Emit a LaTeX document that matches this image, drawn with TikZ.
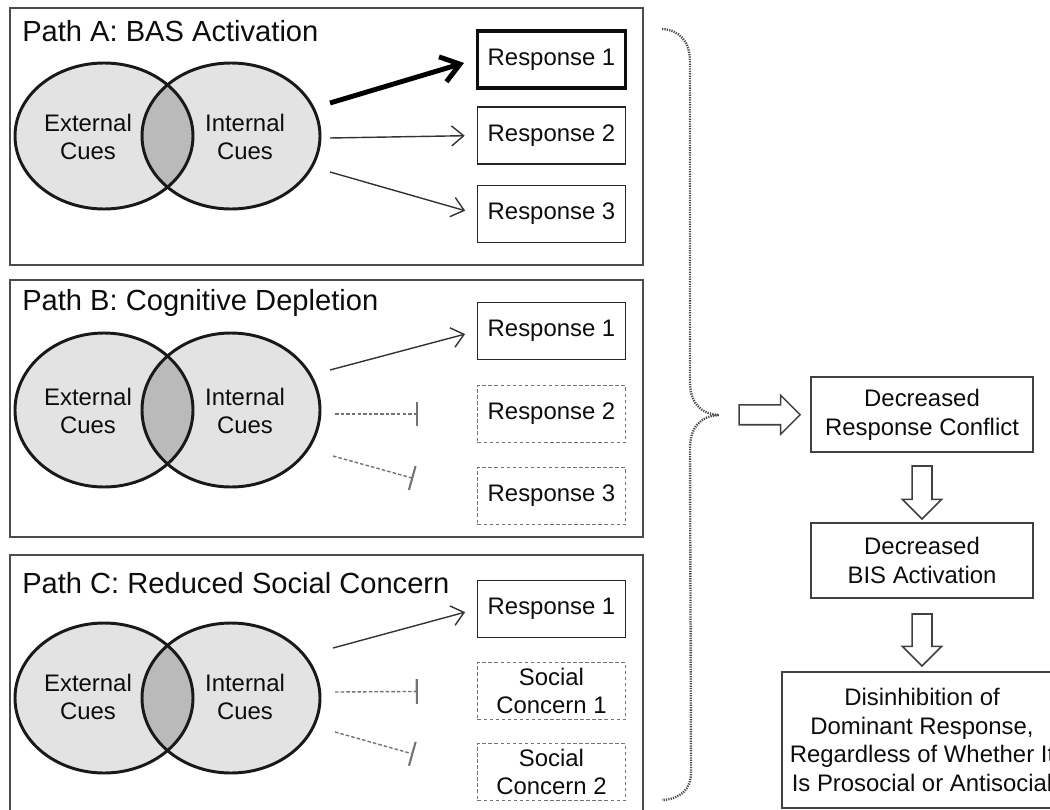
\documentclass[tikz,border=0pt]{standalone}
\usepackage{fontspec}
\setmainfont{Liberation Sans}
\usetikzlibrary{arrows.meta,shapes.arrows,calc}

\tikzset{
		panel/.style={draw=black!70, line width=1.3pt},
		title/.style={anchor=base west, inner sep=0pt, font=\fontsize{20.7}{24}\selectfont, text=black!95},
		cue/.style={fill=black!11},
		overlap/.style={fill=black!27},
		rim/.style={draw=black!90, line width=2.1pt},
		cuetext/.style={align=center, font=\fontsize{17}{20.5}\selectfont, text=black!95},
		resp/.style={draw=black!85, line width=1.1pt, minimum width=3.7cm, minimum height=1.425cm, inner sep=2pt, align=center, font=\fontsize{17}{20.5}\selectfont, text=black!95},
		strongresp/.style={resp, draw=black!95, line width=2.8pt},
		gone/.style={resp, draw=black!55, line width=0.9pt, dash pattern=on 2.5pt off 1.8pt},
		arrow/.style={-{Straight Barb[length=0.3cm, width=0.5cm]}, draw=black!80, line width=1pt, shorten >=0.3cm},
		strong/.style={-{Straight Barb[length=0.45cm, width=0.65cm]}, draw=black, line width=3.5pt, line join=round, shorten >=0.3cm},
		block/.style={-{Bar[width=0.62cm, line width=1.5pt]}, draw=black!55, line width=1pt, dash pattern=on 2.5pt off 1.5pt},
		brace/.style={draw=black!70, line width=1.7pt, dash pattern=on 0.9pt off 0.8pt},
		hollow/.style={single arrow, draw=black!75, fill=white, line width=1.1pt, inner sep=0.23cm, single arrow head extend=0.24cm, minimum height=1.525cm},
		result/.style={draw=black!75, line width=1.1pt, align=center, font=\fontsize{17}{20.5}\selectfont, text=black!95, minimum width=5.55cm, minimum height=1.875cm}
	}

\begin{document}
\begin{tikzpicture}[x=0.025cm, y=-0.025cm]
\useasboundingbox (0,0) rectangle (1050,809);
\clip (0,0) rectangle (1050,809);

% Path A
\draw [panel] (10,8) rectangle (643,265);
\node (titleA) at (22,41) [title] {Path A: BAS Activation};

\fill [cue] (104,136) ellipse [x radius=89, y radius=73];
\fill [cue] (231,136) ellipse [x radius=89, y radius=73];
\begin{scope}
\clip (104,136) ellipse [x radius=89, y radius=73];
\fill [overlap] (231,136) ellipse [x radius=89, y radius=73];
\end{scope}
\draw [rim] (104,136) ellipse [x radius=89, y radius=73];
\draw [rim] (231,136) ellipse [x radius=89, y radius=73];
\node (exA) at (88,137) [cuetext] {External\\Cues};
\node (inA) at (245,137) [cuetext] {Internal\\Cues};

\node (rA1) at (551.5,59.5) [strongresp] {Response 1};
\node (rA2) at (551.5,135.5) [resp] {Response 2};
\node (rA3) at (551.5,214) [resp] {Response 3};

\coordinate (oA1) at (330,103);
\coordinate (oA2) at (330,138);
\coordinate (oA3) at (330,172);
\draw [strong] (oA1) -- (rA1.west);
\draw [arrow] (oA2) -- (rA2.west);
\draw [arrow] (oA3) -- (rA3.west);

% Path B
\draw [panel] (10,280) rectangle (643,537);
\node (titleB) at (22,310) [title] {Path B: Cognitive Depletion};

\fill [cue] (104,410) ellipse [x radius=89, y radius=77];
\fill [cue] (231,410) ellipse [x radius=89, y radius=77];
\begin{scope}
\clip (104,410) ellipse [x radius=89, y radius=77];
\fill [overlap] (231,410) ellipse [x radius=89, y radius=77];
\end{scope}
\draw [rim] (104,410) ellipse [x radius=89, y radius=77];
\draw [rim] (231,410) ellipse [x radius=89, y radius=77];
\node (exB) at (88,411) [cuetext] {External\\Cues};
\node (inB) at (245,411) [cuetext] {Internal\\Cues};

\node (rB1) at (551.5,331) [resp] {Response 1};
\node (rB2) at (551.5,414) [gone] {Response 2};
\node (rB3) at (551.5,496) [gone] {Response 3};

\coordinate (oB1) at (330,370);
\coordinate (oB2) at (335,414);
\coordinate (oB3) at (333,456);
\draw [arrow] (oB1) -- (rB1.west);
\draw [block, shorten >=1.475cm] (oB2) -- (rB2.west);
\draw [block, shorten >=1.65cm] (oB3) -- (rB3.west);

% Path C
\draw [panel] (10,555) rectangle (643,812);
\node (titleC) at (22,593) [title] {Path C: Reduced Social Concern};

\fill [cue] (104,698) ellipse [x radius=89, y radius=75];
\fill [cue] (231,698) ellipse [x radius=89, y radius=75];
\begin{scope}
\clip (104,698) ellipse [x radius=89, y radius=75];
\fill [overlap] (231,698) ellipse [x radius=89, y radius=75];
\end{scope}
\draw [rim] (104,698) ellipse [x radius=89, y radius=75];
\draw [rim] (231,698) ellipse [x radius=89, y radius=75];
\node (exC) at (88,697) [cuetext] {External\\Cues};
\node (inC) at (245,697) [cuetext] {Internal\\Cues};

\node (rC1) at (551.5,609) [resp] {Response 1};
\node (sC1) at (551.5,691) [gone] {Social\\Concern 1};
\node (sC2) at (551.5,772) [gone] {Social\\Concern 2};

\coordinate (oC1) at (333,648);
\coordinate (oC2) at (335,692);
\coordinate (oC3) at (335,732);
\draw [arrow] (oC1) -- (rC1.west);
\draw [block, shorten >=1.475cm] (oC2) -- (sC1.west);
\draw [block, shorten >=1.65cm] (oC3) -- (sC2.west);

% brace and outcome chain
\coordinate (tip) at (719,415);
\draw [brace] (662,29) .. controls (680,30) and (690,42) .. (690,62) -- (690,382)
	.. controls (690,402) and (700,414) .. (tip)
	.. controls (700,416) and (690,428) .. (690,448) -- (691,772)
	.. controls (691,790) and (680,799) .. (662,800);

\node (c1) at (922,414.5) [result] {Decreased\\Response Conflict};
\node (c2) at (922,560.5) [result] {Decreased\\BIS Activation};
\node (c3) at (922,740) [result, minimum width=7cm, minimum height=3.4cm] {Disinhibition of\\Dominant Response,\\Regardless of Whether It\\Is Prosocial or Antisocial};

\node (toC1) at ($(tip)!0.5!(c1.west)$) [hollow] {};
\node (toC2) at ($(c1.south)!0.5!(c2.north)$) [hollow, shape border rotate=270, minimum height=1.325cm] {};
\node (toC3) at ($(c2.south)!0.5!(c3.north)$) [hollow, shape border rotate=270, minimum height=1.3cm] {};

\end{tikzpicture}
\end{document}
